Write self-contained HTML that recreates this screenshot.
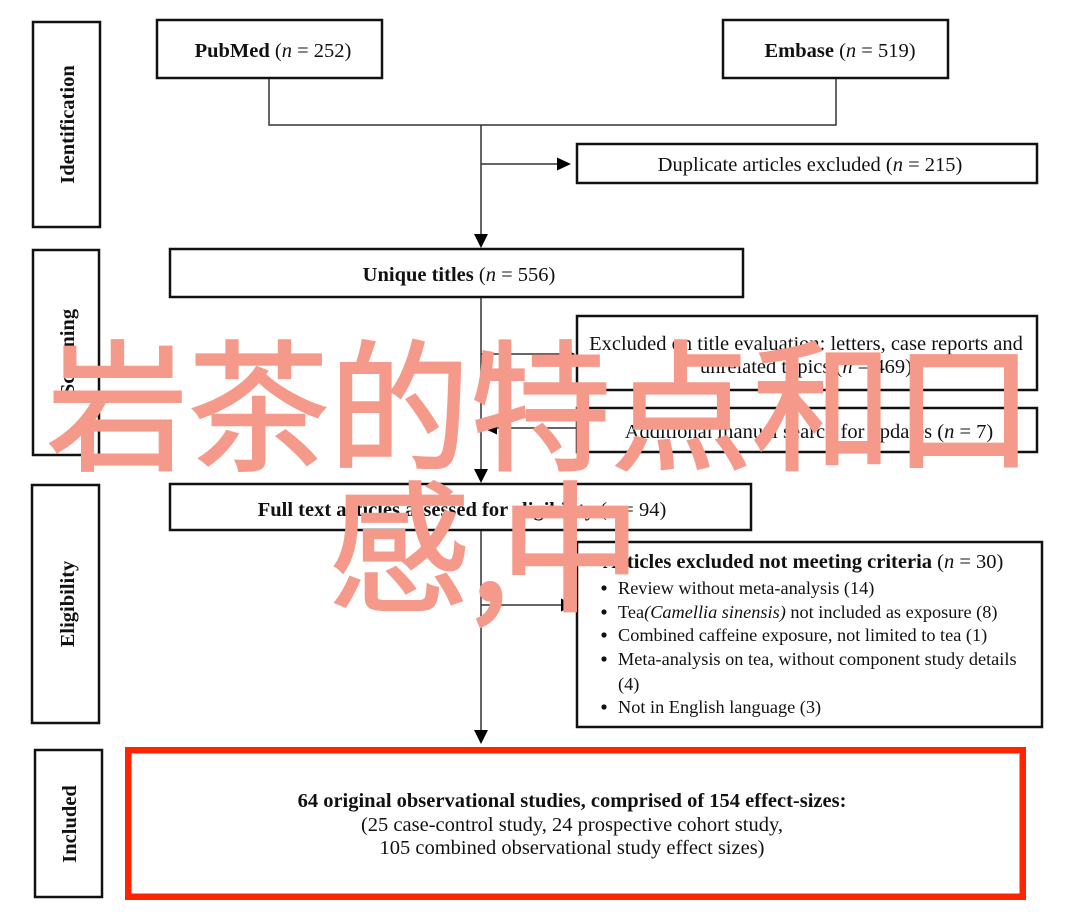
<!DOCTYPE html>
<html>
<head>
<meta charset="utf-8">
<style>
html,body{margin:0;padding:0;background:#fff;}
body{width:1080px;height:915px;overflow:hidden;}
svg{display:block;}
.t{font-family:"Liberation Serif",serif;fill:#111;}
.b{font-weight:bold;}
.i{font-style:italic;}
.ov{font-family:"Liberation Sans","Noto Sans CJK SC",sans-serif;fill:#f59a8a;stroke:#f59a8a;stroke-width:2.5;stroke-linejoin:miter;}
</style>
</head>
<body>
<svg width="1080" height="915" viewBox="0 0 1080 915" xmlns="http://www.w3.org/2000/svg">
  <rect x="0" y="0" width="1080" height="915" fill="#fff"/>

  <!-- side stage boxes -->
  <g fill="none" stroke="#111" stroke-width="2.5">
    <rect x="33" y="22" width="67" height="205"/>
    <rect x="33" y="250" width="66" height="205"/>
    <rect x="32" y="485" width="67" height="238"/>
    <rect x="35" y="750" width="67" height="147"/>
  </g>

  <!-- side labels -->
  <g class="t b" font-size="20.5" text-anchor="middle">
    <text transform="translate(74,124.5) rotate(-90)">Identification</text>
    <text transform="translate(74,352) rotate(-90)">Screening</text>
    <text transform="translate(74,604) rotate(-90)">Eligibility</text>
    <text transform="translate(76,824) rotate(-90)">Included</text>
  </g>

  <!-- main boxes -->
  <g fill="none" stroke="#111" stroke-width="2.5">
    <rect x="157" y="20" width="225" height="58"/>
    <rect x="723" y="20" width="225" height="58"/>
    <rect x="577" y="144" width="460" height="39"/>
    <rect x="170" y="249" width="573" height="48"/>
    <rect x="577" y="316" width="460" height="74"/>
    <rect x="577" y="408" width="460" height="44"/>
    <rect x="170" y="484" width="581" height="46"/>
    <rect x="577" y="542" width="465" height="185"/>
  </g>
  <rect x="128.25" y="750.25" width="894.5" height="146.5" fill="none" stroke="#ff2400" stroke-width="6.5"/>

  <!-- connectors -->
  <g fill="none" stroke="#333" stroke-width="1.5">
    <path d="M269 79 V125 H836 V79"/>
    <path d="M481 125 V236"/>
    <path d="M481 164 H560"/>
    <path d="M481 298 V470"/>
    <path d="M481 354 H563"/>
    <path d="M576 428 H496"/>
    <path d="M481 531 V731"/>
    <path d="M481 605 H562"/>
  </g>
  <g fill="#000">
    <polygon points="474,234 488,234 481,248"/>
    <polygon points="557,157.5 557,170.5 571,164"/>
    <polygon points="474,469 488,469 481,483"/>
    <polygon points="561,347.5 561,360.5 575,354"/>
    <polygon points="497,421.5 497,434.5 483,428"/>
    <polygon points="474,730 488,730 481,744"/>
    <polygon points="561,598.5 561,611.5 575,605"/>
  </g>

  <!-- box texts -->
  <g class="t" font-size="20.5" text-anchor="middle">
    <text x="273" y="57"><tspan class="b">PubMed</tspan> (<tspan class="i">n</tspan> = 252)</text>
    <text x="840" y="57"><tspan class="b">Embase</tspan> (<tspan class="i">n</tspan> = 519)</text>
    <text x="810" y="171">Duplicate articles excluded (<tspan class="i">n</tspan> = 215)</text>
    <text x="459" y="281"><tspan class="b">Unique titles</tspan> (<tspan class="i">n</tspan> = 556)</text>
    <text x="806" y="350">Excluded on title evaluation: letters, case reports and</text>
    <text x="806" y="373">unrelated topics (<tspan class="i">n</tspan> = 469)</text>
    <text x="809" y="438">Additional manual search for updates (<tspan class="i">n</tspan> = 7)</text>
    <text x="462" y="516"><tspan class="b">Full text articles assessed for eligibility</tspan> (<tspan class="i">n</tspan> = 94)</text>
  </g>

  <g class="t" font-size="20.5">
    <text x="603" y="568"><tspan class="b">Articles excluded not meeting criteria</tspan> (<tspan class="i">n</tspan> = 30)</text>
  </g>
  <g class="t" font-size="18.3">
    <text x="618" y="594">Review without meta-analysis (14)</text>
    <text x="618" y="618">Tea<tspan class="i">(Camellia sinensis)</tspan> not included as exposure (8)</text>
    <text x="618" y="641">Combined caffeine exposure, not limited to tea (1)</text>
    <text x="618" y="665">Meta-analysis on tea, without component study details</text>
    <text x="618" y="690">(4)</text>
    <text x="618" y="713">Not in English language (3)</text>
  </g>
  <g fill="#111">
    <circle cx="604" cy="588" r="2.6"/>
    <circle cx="604" cy="612" r="2.6"/>
    <circle cx="604" cy="635" r="2.6"/>
    <circle cx="604" cy="659" r="2.6"/>
    <circle cx="604" cy="707" r="2.6"/>
  </g>

  <g class="t" font-size="20.5" text-anchor="middle">
    <text x="572" y="807" class="t b">64 original observational studies, comprised of 154 effect-sizes:</text>
    <text x="572" y="831">(25 case-control study, 24 prospective cohort study,</text>
    <text x="572" y="854">105 combined observational study effect sizes)</text>
  </g>

  <!-- overlay watermark text -->
  <g class="ov" font-size="141">
    <text x="47 188 329 470 611 752 893" y="459">岩茶的特点和口</text>
    <text y="600"><tspan x="329">感</tspan><tspan x="470" font-family="'Noto Sans CJK SC',sans-serif">,</tspan><tspan x="500">中</tspan></text>
  </g>
</svg>
</body>
</html>
